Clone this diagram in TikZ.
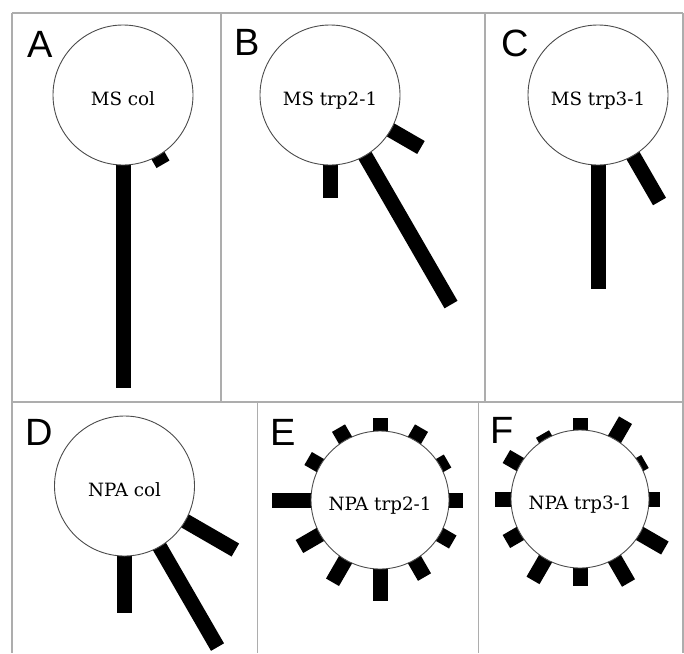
\documentclass[tikz,border=0pt]{standalone}
\usepackage{fontspec}
\newfontfamily\panelfont{Liberation Sans}
\newfontfamily\cellfont{DejaVu Serif}
\begin{document}
\begin{tikzpicture}[x=1pt,y=-1pt,
  frame/.style={draw=black!32,line width=1.5pt},
  cell/.style={circle,draw=black!70,line width=0.9pt,fill=white,inner sep=0pt,
    minimum size=140pt,font=\cellfont\fontsize{18.3}{22}\selectfont,
    text height=20pt,text depth=0pt},
  smallcell/.style={cell,minimum size=138pt},
  tag/.style={anchor=base west,inner sep=0pt,font=\panelfont\fontsize{38}{40}\selectfont}]
\useasboundingbox (0,0) rectangle (684,653);

% radial bar: #1 centre, #2 radius, #3 direction (deg), #4 length outside the circle
\newcommand\rootbar[4]{%
  \fill[black,shift={(#1)},rotate=#3] ({#2-10},-7.5) rectangle ({#2+#4},7.5);}

% panel frames
\draw[frame] (12,13) -- (683,13);
\draw[frame] (12,13) -- (12,653);
\draw[frame] (683,13) -- (683,653);
\draw[frame] (12,402) -- (683,402);
\draw[frame] (221,13) -- (221,402);
\draw[frame] (485,13) -- (485,402);
\draw[frame] (257.5,402) -- (257.5,653);
\draw[frame] (478.5,402) -- (478.5,653);

% centres
\coordinate (cA) at (123,95);
\coordinate (cB) at (330,95);
\coordinate (cC) at (598,95);
\coordinate (cD) at (124.5,486);
\coordinate (cE) at (380,500);
\coordinate (cF) at (580,499);

% A
\rootbar{cA}{70}{-90}{223}
\rootbar{cA}{70}{-60}{10}
% B
\rootbar{cB}{70}{-90}{33}
\rootbar{cB}{70}{-60}{172}
\rootbar{cB}{70}{-30}{35}
% C
\rootbar{cC}{70}{-90}{124}
\rootbar{cC}{70}{-60}{53}
% D
\rootbar{cD}{70}{-90}{57}
\rootbar{cD}{70}{-60}{116}
\rootbar{cD}{70}{-30}{58}
% E
\foreach \a/\l in {90/13,60/14,30/9,0/14,-30/15,-60/20,-90/32,-120/26,-150/24,180/39,150/14,120/14}
  {\rootbar{cE}{69}{\a}{\l}}
% F
\foreach \a/\l in {90/12,60/22,30/6,0/11,-30/29,-60/28,-90/18,-120/25,-150/16,180/16,150/16,120/6}
  {\rootbar{cF}{69}{\a}{\l}}

% circles
\node[cell] (A) at (cA) {MS col};
\node[cell] (B) at (cB) {MS trp2-1};
\node[cell] (C) at (cC) {MS trp3-1};
\node[cell] (D) at (cD) {NPA col};
\node[smallcell] (E) at (cE) {NPA trp2-1};
\node[smallcell] (F) at (cF) {NPA trp3-1};

% panel letters
\node[tag] (tA) at (27,57) {A};
\node[tag] (tB) at (234,55) {B};
\node[tag] (tC) at (501,56) {C};
\node[tag] (tD) at (25,445) {D};
\node[tag] (tE) at (270,445) {E};
\node[tag] (tF) at (490,443) {F};
\end{tikzpicture}
\end{document}
